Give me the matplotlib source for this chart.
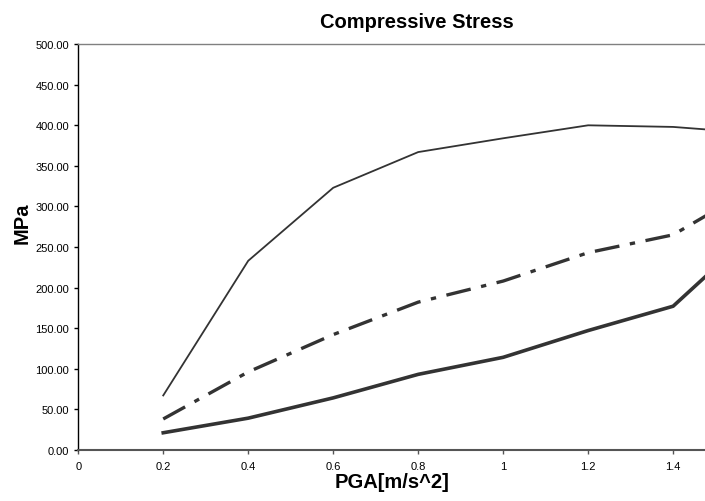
import numpy as np
import matplotlib
matplotlib.use("Agg")
import matplotlib.pyplot as plt

plt.rcParams['font.family'] = ['Liberation Sans', 'DejaVu Sans']

# PGA values (last point sits past the visible edge of the original chart)
pga = [0.2, 0.4, 0.6, 0.8, 1.0, 1.2, 1.4, 1.6]
stress_thin = [67, 233, 323, 367, 384, 400, 398, 390]
stress_dashdot = [38, 96, 142, 182, 208, 243, 265, 326]
stress_thick = [21, 39, 64, 93, 114, 147, 177, 273]

xticks = [0, 0.2, 0.4, 0.6, 0.8, 1, 1.2, 1.4]
xticklabels = ["0", "0.2", "0.4", "0.6", "0.8", "1", "1.2", "1.4"]
yticks = np.arange(0, 501, 50)

LINE_COL = "#333333"

fig = plt.figure(figsize=(7.05, 5.02), dpi=100)
ax = fig.add_axes([0.111, 0.102, 0.889, 0.808])

ax.plot(pga, stress_thin, color=LINE_COL, lw=1.3)
dd, = ax.plot(pga, stress_dashdot, color=LINE_COL, lw=2.4, solid_capstyle="butt")
dd.set_dashes([7.5, 3.2, 1.6, 3.2])
dd.set_dash_capstyle("butt")
ax.plot(pga, stress_thick, color=LINE_COL, lw=2.6)

ax.set_xlim(0, 1.475)
ax.set_ylim(0, 500)
ax.set_xticks(xticks)
ax.set_xticklabels(xticklabels)
ax.set_yticks(yticks)
ax.set_yticklabels(["%.2f" % v for v in yticks])
ax.tick_params(axis="both", labelsize=8, length=3, width=1, direction="out", colors="black")
ax.tick_params(axis="x", pad=5, color="#555555")

ax.spines["right"].set_visible(False)
ax.spines["top"].set_color("#808080")
ax.spines["top"].set_linewidth(1)
ax.spines["left"].set_color("black")
ax.spines["left"].set_linewidth(1)
ax.spines["bottom"].set_color("#555555")
ax.spines["bottom"].set_linewidth(1.5)

ax.set_xlabel("PGA[m/s^2]", fontsize=14.5, fontweight="bold", labelpad=1)
ax.set_ylabel("MPa", fontsize=14.5, fontweight="bold")
ax.yaxis.set_label_coords(-0.075, 0.561)
fig.text(0.592, 0.956, "Compressive Stress", ha="center", va="center",
         fontsize=14.5, fontweight="bold")

fig.savefig("out.png", dpi=100)
